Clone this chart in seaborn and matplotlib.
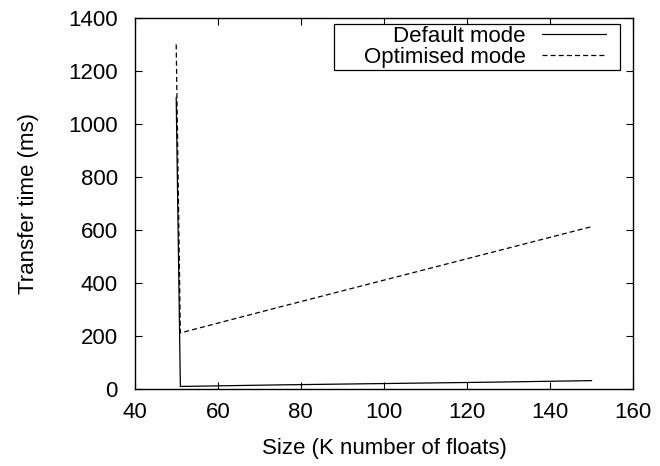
import numpy as np
import pandas as pd
import matplotlib
matplotlib.use("Agg")
import matplotlib.pyplot as plt
import matplotlib.patches as mpatches
import seaborn as sns

# -------------------------------------------------
# Data
# -------------------------------------------------
sizes = [50, 51, 75, 100, 125, 150]
default_ms = [1100, 10, 16, 21, 26, 32]
optimised_ms = [1300, 212, 310, 411, 512, 613]
modes = ["Default mode", "Optimised mode"]

x_ticks = [40, 60, 80, 100, 120, 140, 160]
y_ticks = [0, 200, 400, 600, 800, 1000, 1200, 1400]

df = pd.DataFrame({
    "size": sizes * 2,
    "time": default_ms + optimised_ms,
    "mode": [modes[0]] * len(sizes) + [modes[1]] * len(sizes),
})

# -------------------------------------------------
# Plot
# -------------------------------------------------
sns.set_style("ticks")
plt.rcParams["font.family"] = ["Liberation Sans", "DejaVu Sans"]
plt.rcParams["text.color"] = "black"
plt.rcParams["axes.labelcolor"] = "black"
fs = 16

fig = plt.figure(figsize=(6.6, 4.66), dpi=100)
ax = fig.add_axes([0.204, 0.165, 0.7556, 0.7965])

sns.lineplot(data=df, x="size", y="time", hue="mode", style="mode",
             palette=["black", "black"],
             dashes={modes[0]: "", modes[1]: (4, 2.5)},
             linewidth=0.9, sort=False, ax=ax)

ax.set_xlim(40, 160)
ax.set_ylim(0, 1400)
ax.set_xticks(x_ticks)
ax.set_yticks(y_ticks)
ax.tick_params(direction="in", length=5, width=0.8, labelsize=fs,
               top=True, right=True, colors="black")
ax.tick_params(axis="y", pad=12)
ax.tick_params(axis="x", pad=9)
for s in ax.spines.values():
    s.set_visible(True)
    s.set_linewidth(1.0)
    s.set_color("black")

ax.set_xlabel("Size (K number of floats)", fontsize=fs, labelpad=11)
ax.set_ylabel("Transfer time (ms)", fontsize=fs, labelpad=21)

# gnuplot-style key: labels right-aligned, samples on the right,
# wider padding on the left side of the box
leg = ax.legend(loc="upper right", bbox_to_anchor=(0.949, 0.985),
                markerfirst=False, fontsize=fs, frameon=False,
                borderaxespad=0, borderpad=0.1,
                labelspacing=0.0, handlelength=2.85, handletextpad=0.75)
for t in leg.get_texts():
    t.set_color("black")
leg.set_zorder(6)

fig.canvas.draw()
bb = leg.get_window_extent().transformed(fig.transFigure.inverted())
pad_l, pad_r = 28 / 660, 12 / 660
frame = mpatches.Rectangle((bb.x0 - pad_l, bb.y0), bb.width + pad_l + pad_r,
                           bb.height, transform=fig.transFigure,
                           facecolor="white", edgecolor="black",
                           linewidth=0.9, zorder=5, clip_on=False)
ax.add_patch(frame)

fig.savefig("out.png", dpi=100)
